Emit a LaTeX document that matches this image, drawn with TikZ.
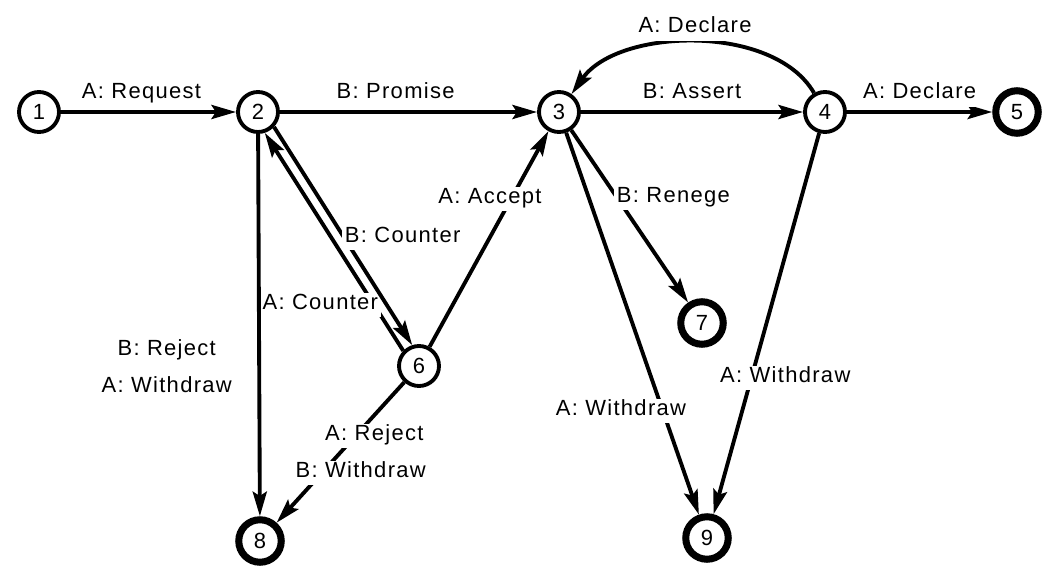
\documentclass[tikz,border=0pt]{standalone}
\usepackage{fontspec}
\setmainfont{Liberation Sans}[LetterSpace=6]
\usetikzlibrary{arrows.meta}

\begin{document}
\begin{tikzpicture}[x=0.02cm, y=-0.02cm,
    font=\fontsize{12.5}{14}\selectfont,
    state/.style={circle, draw, line width=2.2pt, minimum size=0.8cm, inner sep=0pt},
    final/.style={state, line width=4pt, minimum size=0.85cm},
    move/.style={line width=2.2pt, -{Stealth[length=14pt, width=8pt, inset=2.5pt]}},
    lbl/.style={fill=white, inner xsep=1.5pt, inner ysep=2pt, text height=0.75em, text depth=0.25em}
  ]
  \useasboundingbox (0,0) rectangle (1052,588);
  \node [state] at (39,112) (s1) {1};
  \node [state] at (258,112) (s2) {2};
  \node [state] at (559,112) (s3) {3};
  \node [state] at (825,112) (s4) {4};
  \node [final] at (1017,112) (s5) {5};
  \node [state] at (419,366) (s6) {6};
  \node [final] at (702,323) (s7) {7};
  \node [final] at (260,541) (s8) {8};
  \node [final] at (707,538) (s9) {9};
  % top row
  \draw [move] (s1) -- node [lbl, above=2pt, pos=0.46] {A: Request} (s2);
  \draw [move] (s2) -- node [lbl, above=2pt, pos=0.45] {B: Promise} (s3);
  \draw [move] (s3) -- node [lbl, above=2pt] {B: Assert} (s4);
  \draw [move] (s4) -- node [lbl, above=2pt] {A: Declare} (s5);
  \draw [move] (s4) to [out=120, in=55, looseness=0.85] node [lbl, above] {A: Declare} (s3);
  % counter offers
  \draw [move] (s6.136) -- node [lbl, pos=0.21, anchor=east, xshift=0.17cm] {A: Counter} (s2.-72);
  \draw [move] (s2.-43) -- node [lbl, pos=0.509, anchor=west, xshift=-0.08cm] {B: Counter} (s6.108);
  \draw [move] (s6) -- node [lbl, pos=0.685, xshift=-0.42cm] {A: Accept} (s3);
  \draw [move] (s3) -- node [lbl, pos=0.394, anchor=west, xshift=-0.1cm] {B: Renege} (s7);
  \draw [move] (s3) -- node [lbl, pos=0.729, xshift=-0.84cm] {A: Withdraw} (s9);
  \draw [move] (s4) -- node [lbl, pos=0.643, xshift=0.68cm] {A: Withdraw} (s9);
  \draw [move] (s6) -- node [lbl, pos=0.383, xshift=0.38cm] {A: Reject}
                      node [lbl, pos=0.647, xshift=0.78cm] {B: Withdraw} (s8);
  \draw [move] (s2) -- node [pos=0.608, xshift=-1.85cm, align=center, font=\fontsize{12.5}{21}\selectfont] {B: Reject\\A: Withdraw} (s8);
\end{tikzpicture}
\end{document}
